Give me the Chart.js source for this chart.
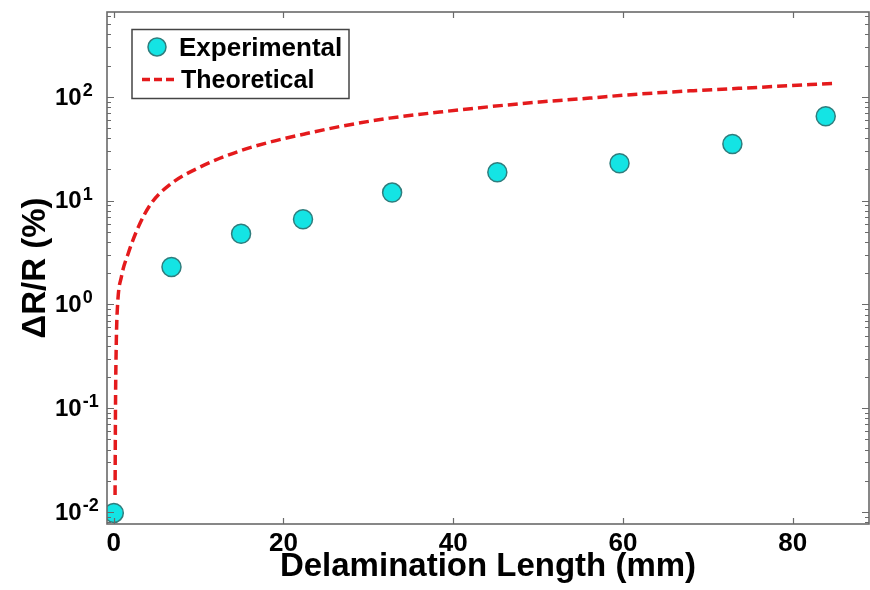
<!DOCTYPE html>
<html><head><meta charset="utf-8">
<script src="https://cdn.jsdelivr.net/npm/chart.js@4.4.1/dist/chart.umd.min.js"></script>
<style>html,body{margin:0;padding:0;background:#fff}</style>
</head><body>
<canvas id="c" width="870" height="590" style="width:870px;height:590px;display:block"></canvas>
<script>
// ---- data ----
const expX = [0, 6.8, 15.0, 22.3, 32.8, 45.2, 59.6, 72.9, 83.9];
const expY = [0.0098, 2.30, 4.81, 6.62, 11.97, 18.8, 23.0, 35.2, 65.2];
const theoX = [0.15, 0.2, 0.3, 0.45, 0.9, 1.7, 2.9, 4.4, 6.8, 9.9, 14.6, 18.6, 22.5, 26.6, 32.5, 38.4, 44.3, 50.2, 56.1, 60.4, 68.3, 76.1, 85.1];
const theoY = [0.0146, 0.1, 0.45, 1.0, 1.85, 3.1, 5.6, 9.4, 14.7, 20.6, 29.7, 37.1, 44.0, 51.8, 62.5, 71.5, 80.6, 89.5, 97.5, 104.5, 115, 124, 135.5];
const xTicks = [0, 20, 40, 60, 80];
const yTickExps = [-2, -1, 0, 1, 2];
const legendLabels = ['Experimental', 'Theoretical'];
const xTitle = 'Delamination Length (mm)';
const yTitle = '\u0394R/R (%)';

const FAM = "'Liberation Sans', Arial, Helvetica, sans-serif";

const framePlugin = {
  id: 'frame',
  afterDraw(chart) {
    const {ctx, chartArea: a, scales: {x, y}} = chart;
    ctx.save();
    ctx.strokeStyle = '#6a6a6a';
    ctx.lineWidth = 1.6;
    ctx.strokeRect(a.left, a.top, a.right - a.left, a.bottom - a.top);
    ctx.lineWidth = 1.2;
    ctx.beginPath();
    xTicks.forEach(v => {
      const px = Math.round(x.getPixelForValue(v)) + 0.5;
      ctx.moveTo(px, a.bottom); ctx.lineTo(px, a.bottom - 6);
      ctx.moveTo(px, a.top); ctx.lineTo(px, a.top + 6);
    });
    for (let e = -3; e <= 3; e++) {
      for (let m = 1; m <= 9; m++) {
        const v = m * Math.pow(10, e);
        if (v < y.min || v > y.max) continue;
        const py = Math.round(y.getPixelForValue(v)) + 0.5;
        const len = m === 1 ? 7 : 4;
        ctx.moveTo(a.left, py); ctx.lineTo(a.left + len, py);
        ctx.moveTo(a.right, py); ctx.lineTo(a.right - len, py);
      }
    }
    ctx.stroke();

    // y tick labels: 10 with raised exponent
    ctx.fillStyle = '#000';
    ctx.textAlign = 'left';
    yTickExps.forEach(e => {
      const py = y.getPixelForValue(Math.pow(10, e));
      ctx.font = 'bold 24px ' + FAM;
      ctx.textBaseline = 'middle';
      ctx.fillText('10', 55, py + 1);
      const w = ctx.measureText('10').width;
      ctx.font = 'bold 18px ' + FAM;
      ctx.textBaseline = 'alphabetic';
      ctx.fillText(String(e), 55 + w + 1, py - 1);
    });

    // legend
    const ds = chart.data.datasets;
    const lx = 132, ly = 29.5, lw = 217, lh = 69;
    ctx.fillStyle = '#fff';
    ctx.fillRect(lx, ly, lw, lh);
    ctx.strokeStyle = '#444';
    ctx.lineWidth = 1.5;
    ctx.strokeRect(lx, ly, lw, lh);
    ctx.beginPath();
    ctx.arc(157, 47, 9, 0, Math.PI * 2);
    ctx.fillStyle = ds[0].pointBackgroundColor;
    ctx.fill();
    ctx.lineWidth = 1.5;
    ctx.strokeStyle = ds[0].pointBorderColor;
    ctx.stroke();
    ctx.beginPath();
    ctx.setLineDash([8, 4]);
    ctx.strokeStyle = ds[1].borderColor;
    ctx.lineWidth = 3.5;
    ctx.moveTo(142, 79.5); ctx.lineTo(178, 79.5);
    ctx.stroke();
    ctx.setLineDash([]);
    ctx.fillStyle = '#000';
    ctx.font = 'bold 26px ' + FAM;
    ctx.textBaseline = 'alphabetic';
    ctx.fillText(ds[0].label, 179, 56);
    ctx.font = 'bold 25px ' + FAM;
    ctx.fillText(ds[1].label, 181, 88);
    ctx.restore();
  }
};

new Chart(document.getElementById('c'), {
  type: 'scatter',
  data: {
    datasets: [
      {
        label: legendLabels[0],
        data: expX.map((v, i) => ({x: v, y: expY[i]})),
        pointRadius: 9.5,
        pointBackgroundColor: '#14e4e4',
        pointBorderColor: '#2f7d7d',
        pointBorderWidth: 1.5,
        showLine: false
      },
      {
        label: legendLabels[1],
        data: theoX.map((v, i) => ({x: v, y: theoY[i]})),
        showLine: true,
        borderColor: '#e41a1c',
        borderWidth: 3.5,
        borderDash: [10, 5],
        pointRadius: 0,
        cubicInterpolationMode: 'monotone',
        fill: false
      }
    ]
  },
  options: {
    responsive: false,
    animation: false,
    devicePixelRatio: 1,
    layout: {autoPadding: false, padding: {top: 12, right: 1, left: 0, bottom: 0}},
    plugins: {legend: {display: false}, tooltip: {enabled: false}},
    scales: {
      x: {
        type: 'linear', min: -0.8, max: 89,
        afterBuildTicks: s => { s.ticks = xTicks.map(v => ({value: v})); },
        grid: {display: false, drawTicks: false},
        border: {display: false},
        ticks: {font: {family: FAM, weight: 'bold', size: 26}, color: '#000', padding: 4, maxRotation: 0},
        title: {display: true, text: xTitle, color: '#000', font: {family: FAM, weight: 'bold', size: 33}, padding: {top: 0, bottom: 3}},
        afterFit: s => { s.height = 66; s.paddingLeft = 0; s.paddingRight = 0; }
      },
      y: {
        type: 'logarithmic', min: 0.00766, max: 659,
        afterBuildTicks: s => { s.ticks = yTickExps.map(e => ({value: Math.pow(10, e)})); },
        grid: {display: false, drawTicks: false},
        border: {display: false},
        ticks: {display: false},
        title: {display: true, text: yTitle, color: '#000', font: {family: FAM, weight: 'bold', size: 33}, padding: {top: 16, bottom: 0}},
        afterFit: s => { s.width = 107; s.paddingTop = 0; s.paddingBottom = 0; }
      }
    }
  },
  plugins: [framePlugin]
});
</script>
</body></html>
